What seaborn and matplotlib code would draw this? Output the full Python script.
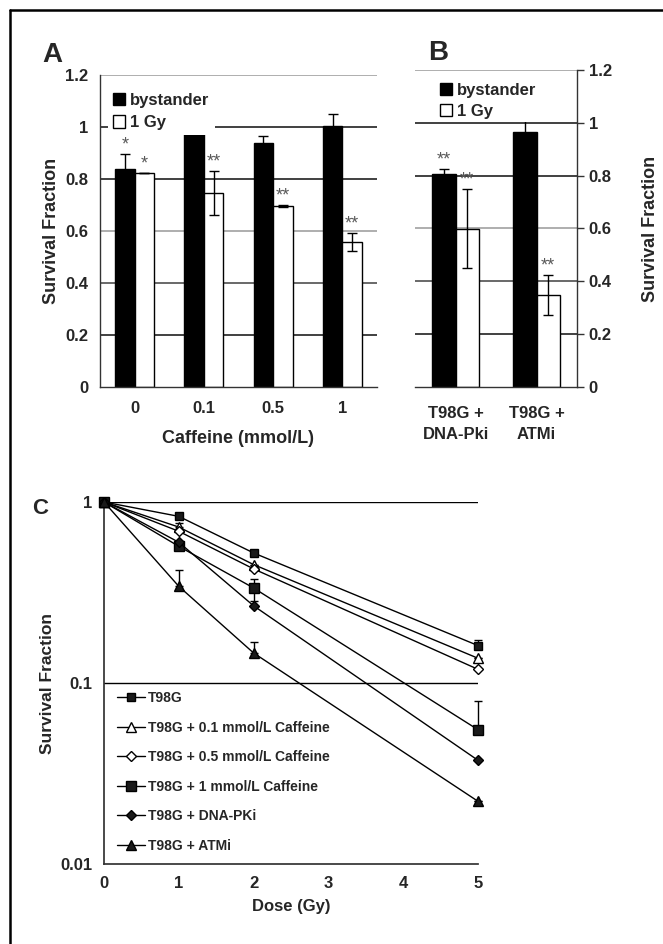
import numpy as np
import pandas as pd
import seaborn as sns
import matplotlib.pyplot as plt
from matplotlib.lines import Line2D
from matplotlib.patches import Patch
from matplotlib.ticker import FixedLocator, NullFormatter, NullLocator

# ---- data: panel A (caffeine) ----
caffeine = ['0', '0.1', '0.5', '1']
a_bystander = [0.837, 1.040, 0.940, 1.005]
a_bystander_err = [0.060, 0.028, 0.027, 0.045]
a_1gy = [0.824, 0.746, 0.696, 0.558]
a_1gy_err = [0.0, 0.084, 0.005, 0.035]
a_stars_by = ['*', '', '', '']
a_stars_gy = ['*', '**', '**', '**']

# ---- data: panel B (inhibitors) ----
inhib = ['T98G +\nDNA-Pki', 'T98G +\nATMi']
b_bystander = [0.807, 0.967]
b_bystander_err = [0.019, 0.082]
b_1gy = [0.599, 0.347]
b_1gy_err = [0.149, 0.076]
b_stars_by = ['**', '']
b_stars_gy = ['**', '**']

# ---- data: panel C (survival curves) ----
dose = [0, 1, 2, 5]
sf_t98g = [1.0, 0.833, 0.523, 0.161]
sf_caf01 = [1.0, 0.727, 0.451, 0.137]
sf_caf05 = [1.0, 0.689, 0.427, 0.119]
sf_caf1 = [1.0, 0.569, 0.335, 0.0552]
sf_dnapki = [1.0, 0.599, 0.267, 0.0374]
sf_atmi = [1.0, 0.342, 0.1465, 0.0222]
up_t98g = [0, 0, 0, 0.012]
up_caf01 = [0, 0.04, 0, 0]
up_caf05 = [0, 0, 0, 0]
up_caf1 = [0, 0, 0.04, 0.0246]
lo_caf1 = [0, 0, 0.05, 0]
up_dnapki = [0, 0, 0, 0]
up_atmi = [0, 0.077, 0.0215, 0]

series_c = [
    ('T98G', sf_t98g, [0] * 4, up_t98g, 's', 'k', 6),
    ('T98G + 0.1 mmol/L Caffeine', sf_caf01, [0] * 4, up_caf01, '^', 'white', 7),
    ('T98G + 0.5 mmol/L Caffeine', sf_caf05, [0] * 4, up_caf05, 'D', 'white', 5),
    ('T98G + 1 mmol/L Caffeine', sf_caf1, lo_caf1, up_caf1, 's', 'k', 6.5),
    ('T98G + DNA-PKi', sf_dnapki, [0] * 4, up_dnapki, 'D', 'k', 5),
    ('T98G + ATMi', sf_atmi, [0] * 4, up_atmi, '^', 'k', 7),
]

sns.set_theme(style="white")
plt.rcParams['font.family'] = ['Liberation Sans', 'DejaVu Sans']
plt.rcParams['font.weight'] = 'bold'
plt.rcParams['axes.labelweight'] = 'bold'
plt.rcParams['xtick.direction'] = 'out'
plt.rcParams['ytick.direction'] = 'out'

fig = plt.figure(figsize=(6.63, 9.44), dpi=100)
W, H = 663, 944


def ax_px(l, t, r, b):
    return fig.add_axes([l / W, 1 - b / H, (r - l) / W, (b - t) / H])


grid_cols = {1.2: '0.6', 1.0: '0.05', 0.8: '0.05', 0.6: '0.6', 0.4: '0.25', 0.2: '0.05'}


def bar_panel(ax, cats, by, by_err, gy, gy_err, st_by, st_gy, width):
    df = pd.DataFrame({
        'cat': cats * 2,
        'val': by + gy,
        'grp': ['bystander'] * len(cats) + ['1 Gy'] * len(cats),
    })
    for v, c in grid_cols.items():
        ax.axhline(v, color=c, lw=1.1, zorder=0)
    sns.barplot(data=df, x='cat', y='val', hue='grp', order=cats,
                hue_order=['bystander', '1 Gy'], palette=['black', 'white'],
                edgecolor='black', linewidth=1, width=width, errorbar=None,
                saturation=1, ax=ax, zorder=2, legend=False)
    for cont, errs, stars in zip(ax.containers, [by_err, gy_err], [st_by, st_gy]):
        xs = [p.get_x() + p.get_width() / 2 for p in cont]
        hs = [p.get_height() for p in cont]
        ax.errorbar(xs, hs, yerr=errs, fmt='none', ecolor='black',
                    elinewidth=1, capsize=3.5, capthick=1, zorder=3)
        for x, h, e, s in zip(xs, hs, errs, stars):
            if s:
                ax.text(x, h + e + 0.035, s, ha='center', va='center',
                        fontsize=13, fontweight='normal', color='0.35',
                        zorder=4)
    ax.set_ylim(0, 1.2)
    ax.set_yticks([0, 0.2, 0.4, 0.6, 0.8, 1.0, 1.2])
    ax.set_yticklabels(['0', '0.2', '0.4', '0.6', '0.8', '1', '1.2'])
    n = len(cats)
    ax.set_xlim(-0.5, n - 0.5)
    ax.xaxis.set_major_locator(FixedLocator(np.arange(n + 1) - 0.5))
    ax.xaxis.set_major_formatter(NullFormatter())
    ax.xaxis.set_minor_locator(FixedLocator(np.arange(n)))
    ax.set_xticklabels(cats, minor=True)
    ax.tick_params(axis='x', which='minor', length=0, labelsize=12, pad=10)
    ax.tick_params(axis='x', which='major', length=5, width=1, color='0.2')
    ax.tick_params(axis='y', length=5, width=1, color='0.2', labelsize=12)
    ax.set_xlabel('')
    ax.set_ylabel('Survival Fraction', fontsize=13, fontweight='bold')
    for sp in ax.spines.values():
        sp.set_color('0.2')
        sp.set_linewidth(1)
    handles = [Patch(facecolor='black', edgecolor='black', lw=1),
               Patch(facecolor='white', edgecolor='black', lw=1)]
    return handles


# ---- panel A ----
axA = ax_px(100, 75, 377, 387)
hA = bar_panel(axA, caffeine, a_bystander, a_bystander_err, a_1gy, a_1gy_err,
               a_stars_by, a_stars_gy, 0.56)
axA.spines['top'].set_visible(False)
axA.spines['right'].set_visible(False)
axA.set_xlabel('Caffeine (mmol/L)', fontsize=13, fontweight='bold', labelpad=10)
legA = axA.legend(hA, ['bystander', '1 Gy'], loc='upper left',
                  bbox_to_anchor=(0.01, 0.975), fontsize=12, frameon=True,
                  facecolor='white', edgecolor='none', framealpha=1,
                  handlelength=0.75, handleheight=0.75, handletextpad=0.3,
                  labelspacing=0.45, borderpad=0.3, borderaxespad=0.3)
legA.set_zorder(5)
for t in legA.get_texts():
    t.set_fontweight('bold')

# ---- panel B ----
axB = ax_px(415, 70, 577, 387)
hB = bar_panel(axB, inhib, b_bystander, b_bystander_err, b_1gy, b_1gy_err,
               b_stars_by, b_stars_gy, 0.58)
axB.spines['top'].set_visible(False)
axB.spines['left'].set_visible(False)
axB.yaxis.tick_right()
axB.yaxis.set_label_position('right')
axB.tick_params(axis='x', which='minor', pad=14)
for lab in axB.get_xticklabels(minor=True):
    lab.set_linespacing(1.45)
axB.set_ylabel('Survival Fraction', fontsize=13, fontweight='bold', labelpad=22)
axB.yaxis.label.set_rotation(90)
legB = axB.legend(hB, ['bystander', '1 Gy'], loc='upper left',
                  bbox_to_anchor=(0.1, 0.985), fontsize=12, frameon=True,
                  facecolor='white', edgecolor='none', framealpha=1,
                  handlelength=0.75, handleheight=0.75, handletextpad=0.3,
                  labelspacing=0.35, borderpad=0.2, borderaxespad=0.3)
legB.set_zorder(5)
for t in legB.get_texts():
    t.set_fontweight('bold')

# ---- panel C ----
axC = ax_px(104, 502, 478, 864)
axC.set_yscale('log')
axC.axhline(1, color='black', lw=1, zorder=0)
axC.axhline(0.1, color='black', lw=1, zorder=0)
for name, sf, lo, up, mk, fc, ms in series_c:
    sns.lineplot(x=dose, y=sf, ax=axC, color='black', lw=1, marker=mk,
                 markersize=ms, markerfacecolor=fc, markeredgecolor='black',
                 markeredgewidth=1, label=name, zorder=3, clip_on=False)
    axC.errorbar(dose, sf, yerr=[lo, up], fmt='none', ecolor='black',
                 elinewidth=1, capsize=3, capthick=1, zorder=2, clip_on=False)
axC.set_xlim(0, 5)
axC.set_ylim(0.01, 1)
axC.set_xticks([0, 1, 2, 3, 4, 5])
axC.set_yticks([0.01, 0.1, 1])
axC.set_yticklabels(['0.01', '0.1', '1'])
axC.yaxis.set_minor_locator(NullLocator())
axC.tick_params(axis='both', length=5, width=1, color='0.2', labelsize=12)
axC.spines['top'].set_visible(False)
axC.spines['right'].set_visible(False)
for sp in axC.spines.values():
    sp.set_color('0.2')
axC.set_xlabel('Dose (Gy)', fontsize=12, fontweight='bold', labelpad=6)
axC.set_ylabel('Survival Fraction', fontsize=12.5, fontweight='bold', labelpad=4)
legC = axC.legend(loc='lower left', bbox_to_anchor=(0.005, 0.0), fontsize=10,
                  frameon=False, handlelength=2.0, handletextpad=0.2,
                  labelspacing=1.12, borderpad=0.3)
for t in legC.get_texts():
    t.set_fontweight('bold')

# ---- panel letters ----
fig.text(42 / W, 1 - 62 / H, 'A', fontsize=20, fontweight='bold')
fig.text(428 / W, 1 - 60 / H, 'B', fontsize=20, fontweight='bold')
fig.text(32 / W, 1 - 514 / H, 'C', fontsize=16, fontweight='bold')

# ---- frame (left and top edges) ----
fig.add_artist(Line2D([10 / W, 10 / W], [0, 1 - 10 / H], color='black', lw=1.8))
fig.add_artist(Line2D([10 / W, 1], [1 - 10 / H, 1 - 10 / H], color='black', lw=1.8))

fig.savefig('out.png', dpi=100)
